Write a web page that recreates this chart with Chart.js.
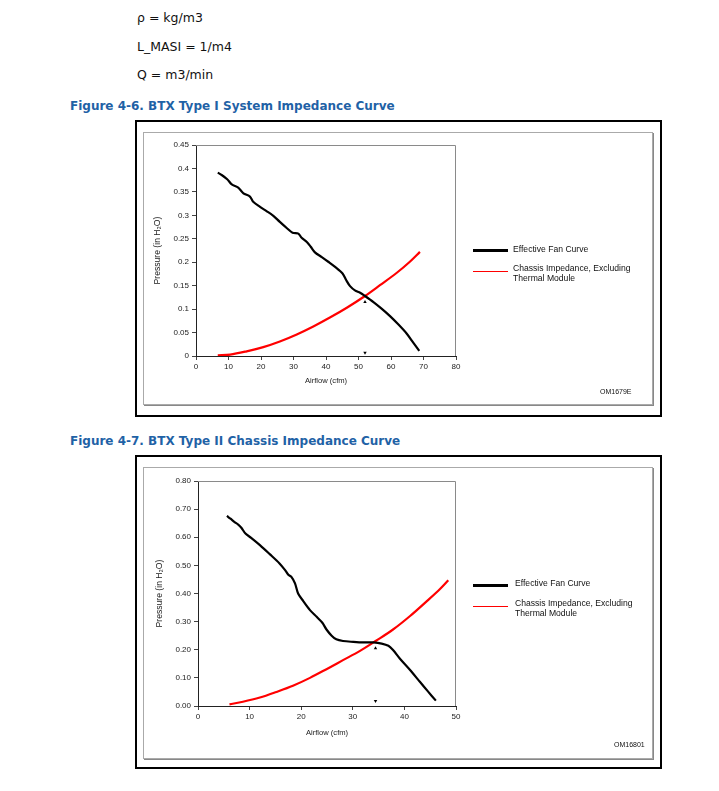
<!DOCTYPE html>
<html>
<head>
<meta charset="utf-8">
<script src="https://cdn.jsdelivr.net/npm/chart.js@4.4.1/dist/chart.umd.min.js"></script>
<style>
    body { margin: 0; background: #fff; }
    #page { position: relative; width: 719px; height: 791px; overflow: hidden; font-family: "DejaVu Sans", Verdana, sans-serif; }
    .txt { position: absolute; font-size: 12.5px; color: #111; line-height: 16px; white-space: nowrap; }
    .cap { position: absolute; font-size: 12px; font-weight: bold; color: #1f62a6; line-height: 16px; white-space: nowrap; }
    .outer { position: absolute; border: 2px solid #000; box-sizing: border-box; }
    .inner { position: absolute; border: 1px solid #aaa; box-shadow: 1px 1px 0 #888; box-sizing: border-box; }
    canvas { position: absolute; }
    .leg { position: absolute; font-family: "Liberation Sans", Arial, sans-serif; font-size: 8.6px; color: #111; line-height: 10px; white-space: nowrap; }
    .swatch { position: absolute; width: 35px; }
    .om { position: absolute; font-family: "Liberation Sans", Arial, sans-serif; font-size: 7px; color: #111; line-height: 8px; }
</style>
</head>
<body>
<div id="page">
    <div class="txt" style="left:137px; top:10px;">ρ = kg/m3</div>
    <div class="txt" style="left:137px; top:39px;">L_MASI = 1/m4</div>
    <div class="txt" style="left:137px; top:67px;">Q = m3/min</div>
    <div class="cap" style="left:70px; top:98px;">Figure 4-6. BTX Type I System Impedance Curve</div>

    <div class="outer" style="left:135px; top:120px; width:527px; height:297px;"></div>
    <div class="inner" style="left:143px; top:132px; width:510px; height:273px;"></div>
    <canvas id="chart1" style="left:144px; top:133px;"></canvas>
    <div class="swatch" style="left:473px; top:249px; height:2.5px; background:#000;"></div>
    <div class="leg" style="left:513px; top:244px;">Effective Fan Curve</div>
    <div class="swatch" style="left:473px; top:271px; height:1px; background:#f00;"></div>
    <div class="leg" style="left:513px; top:263px;">Chassis Impedance, Excluding<br>Thermal Module</div>
    <div class="om" style="left:600px; top:388px;">OM1679E</div>

    <div class="cap" style="left:70px; top:433px;">Figure 4-7. BTX Type II Chassis Impedance Curve</div>

    <div class="outer" style="left:135px; top:455px; width:527px; height:314px;"></div>
    <div class="inner" style="left:143px; top:467px; width:510px; height:292px;"></div>
    <canvas id="chart2" style="left:144px; top:468px;"></canvas>
    <div class="swatch" style="left:473px; top:584px; height:2.5px; background:#000;"></div>
    <div class="leg" style="left:515px; top:578px;">Effective Fan Curve</div>
    <div class="swatch" style="left:473px; top:606px; height:1px; background:#f00;"></div>
    <div class="leg" style="left:515px; top:598px;">Chassis Impedance,  Excluding<br>Thermal  Module</div>
    <div class="om" style="left:614px; top:741px;">OM16801</div>
</div>

<script>
// Figure 4-6 (Type I)
const fan1X = [6.7, 7.9, 9.6, 11.0, 13.0, 14.6, 16.6, 17.6, 19.7, 21.7, 23.8, 25.8, 27.9, 29.7, 31.5, 32.5, 34.1, 35.3, 36.6, 38.7, 40.7, 42.8, 45.1, 46.2, 47.4, 48.9, 50.5, 52.0, 54.6, 57.1, 59.7, 62.3, 64.8, 66.9, 68.7];
const fan1Y = [0.391, 0.386, 0.377, 0.366, 0.359, 0.347, 0.340, 0.329, 0.318, 0.309, 0.299, 0.286, 0.273, 0.263, 0.261, 0.252, 0.243, 0.233, 0.221, 0.211, 0.201, 0.190, 0.176, 0.162, 0.149, 0.140, 0.135, 0.128, 0.115, 0.101, 0.085, 0.067, 0.048, 0.028, 0.011];
const imp1X = [6.7, 10.5, 15.6, 20.7, 25.8, 31.0, 36.1, 41.2, 46.4, 52.0, 56.6, 61.7, 65.8, 68.9];
const imp1Y = [0.0014, 0.003, 0.010, 0.019, 0.031, 0.046, 0.063, 0.082, 0.103, 0.128, 0.151, 0.177, 0.201, 0.222];
const mark1X = [52.0, 52.0];
const mark1Y = [0.115, 0.007];
const xTicks1 = ["0", "10", "20", "30", "40", "50", "60", "70", "80"];
const yTicks1 = ["0", "0.05", "0.1", "0.15", "0.2", "0.25", "0.3", "0.35", "0.4", "0.45"];

// Figure 4-7 (Type II)
const fan2X = [5.6, 6.3, 7.1, 7.8, 8.4, 9.2, 10.3, 12.0, 13.9, 15.8, 16.8, 17.5, 18.1, 18.8, 19.4, 20.4, 21.7, 23.0, 24.1, 24.9, 25.9, 26.8, 28.1, 30.1, 32.0, 34.0, 35.6, 36.9, 37.8, 39.1, 41.1, 43.0, 44.6, 46.1];
const fan2Y = [0.676, 0.666, 0.654, 0.645, 0.634, 0.613, 0.598, 0.572, 0.540, 0.507, 0.485, 0.467, 0.459, 0.436, 0.400, 0.373, 0.341, 0.317, 0.296, 0.272, 0.250, 0.237, 0.231, 0.228, 0.226, 0.226, 0.222, 0.214, 0.199, 0.169, 0.128, 0.086, 0.051, 0.019];
const imp2X = [6.1, 8.7, 12.0, 15.2, 18.4, 21.7, 24.9, 28.1, 31.4, 34.5, 37.8, 41.1, 44.3, 46.9, 48.5];
const imp2Y = [0.006, 0.015, 0.030, 0.050, 0.072, 0.100, 0.131, 0.163, 0.196, 0.232, 0.272, 0.320, 0.372, 0.416, 0.447];
const mark2X = [34.4, 34.4];
const mark2Y = [0.205, 0.018];
const xTicks2 = ["0", "10", "20", "30", "40", "50"];
const yTicks2 = ["0.00", "0.10", "0.20", "0.30", "0.40", "0.50", "0.60", "0.70", "0.80"];

const tickFont = { family: "'Liberation Sans', Arial, sans-serif", size: 8 };
const xTitleFont = { family: "'Liberation Sans', Arial, sans-serif", size: 7.6 };
const yTitleFont = { family: "'Liberation Sans', Arial, sans-serif", size: 8.6 };

function toPoints(xs, ys) {
    return xs.map((x, i) => ({ x: x, y: ys[i] }));
}

const framePlugin = {
    id: "frame",
    beforeDatasetsDraw(chart) {
        const { ctx, chartArea } = chart;
        ctx.save();
        ctx.strokeStyle = "#8a8a8a";
        ctx.lineWidth = 1;
        ctx.beginPath();
        ctx.moveTo(chartArea.left, chartArea.top + 0.5);
        ctx.lineTo(chartArea.right - 0.5, chartArea.top + 0.5);
        ctx.lineTo(chartArea.right - 0.5, chartArea.bottom);
        ctx.stroke();
        ctx.restore();
    },
};

function makeChart(id, cfg) {
    const canvas = document.getElementById(id);
    canvas.width = cfg.w;
    canvas.height = cfg.h;
    canvas.style.width = cfg.w + "px";
    canvas.style.height = cfg.h + "px";

    return new Chart(canvas, {
        type: "scatter",
        data: {
            datasets: [
                {
                    label: "Effective Fan Curve",
                    data: toPoints(cfg.fanX, cfg.fanY),
                    showLine: true,
                    borderColor: "#000",
                    borderWidth: 2.2,
                    pointRadius: 0,
                    tension: 0.3,
                },
                {
                    label: "Chassis Impedance, Excluding Thermal Module",
                    data: toPoints(cfg.impX, cfg.impY),
                    showLine: true,
                    borderColor: "#f00",
                    borderWidth: 2.2,
                    pointRadius: 0,
                    cubicInterpolationMode: "monotone",
                },
                {
                    label: "markers",
                    data: toPoints(cfg.markX, cfg.markY),
                    pointStyle: "triangle",
                    pointRadius: 2,
                    rotation: [0, 180],
                    backgroundColor: "#000",
                    borderColor: "#000",
                    borderWidth: 0,
                },
            ],
        },
        options: {
            responsive: false,
            animation: false,
            layout: { padding: { left: 0, top: cfg.padTop, right: cfg.padRight, bottom: 0 } },
            plugins: { legend: { display: false }, tooltip: { enabled: false } },
            scales: {
                x: {
                    type: "linear",
                    min: 0,
                    max: cfg.xMax,
                    ticks: {
                        stepSize: cfg.xStep,
                        font: tickFont,
                        color: "#222",
                        padding: 2,
                        maxRotation: 0,
                        callback: (v, i) => cfg.xTicks[i],
                    },
                    grid: { drawOnChartArea: false, tickLength: 4, color: "#444" },
                    border: { color: "#222", width: 1 },
                    title: {
                        display: true,
                        text: "Airflow (cfm)",
                        font: xTitleFont,
                        color: "#222",
                        padding: { top: 0, bottom: cfg.xTitlePad },
                    },
                    afterFit: (scale) => { scale.height = cfg.xHeight; },
                },
                y: {
                    type: "linear",
                    min: 0,
                    max: cfg.yMax,
                    ticks: {
                        stepSize: cfg.yStep,
                        font: tickFont,
                        color: "#222",
                        padding: 3,
                        callback: (v, i) => cfg.yTicks[i],
                    },
                    grid: { drawOnChartArea: false, tickLength: 4, color: "#444" },
                    border: { color: "#222", width: 1 },
                    title: {
                        display: true,
                        text: "Pressure (in H₂O)",
                        font: yTitleFont,
                        color: "#222",
                        padding: { top: cfg.yTitlePad, bottom: 0 },
                    },
                    afterFit: (scale) => { scale.width = cfg.yWidth; },
                },
            },
        },
        plugins: [framePlugin],
    });
}

makeChart("chart1", {
    w: 508, h: 271, padTop: 12, padRight: 196, xHeight: 48, yWidth: 52,
    xTitlePad: 19, yTitlePad: 8,
    xMax: 80, xStep: 10, yMax: 0.45, yStep: 0.05,
    xTicks: xTicks1, yTicks: yTicks1,
    fanX: fan1X, fanY: fan1Y, impX: imp1X, impY: imp1Y, markX: mark1X, markY: mark1Y,
});

makeChart("chart2", {
    w: 508, h: 290, padTop: 13, padRight: 196, xHeight: 52, yWidth: 54,
    xTitlePad: 21, yTitlePad: 10,
    xMax: 50, xStep: 10, yMax: 0.8, yStep: 0.1,
    xTicks: xTicks2, yTicks: yTicks2,
    fanX: fan2X, fanY: fan2Y, impX: imp2X, impY: imp2Y, markX: mark2X, markY: mark2Y,
});
</script>
</body>
</html>
